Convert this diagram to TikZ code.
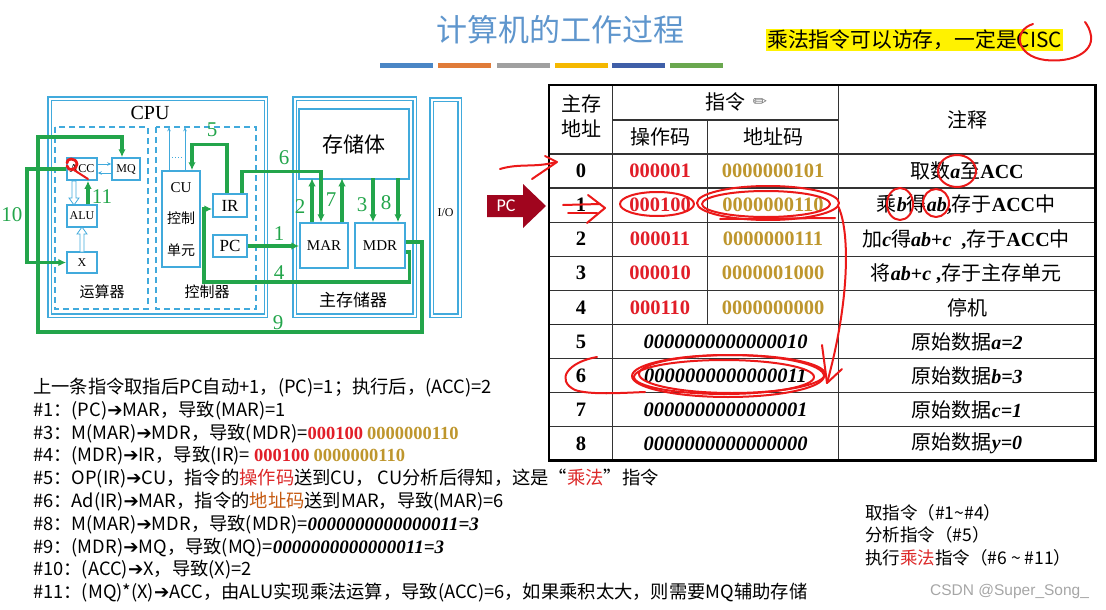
\documentclass[tikz,border=0pt]{standalone}
\usepackage{fontspec}
\setmainfont{Liberation Serif}
\newfontfamily\cjk{Noto Sans CJK SC}
\newfontfamily\dvs{DejaVu Sans}
\newfontfamily\lsans{Liberation Sans}
\newfontfamily\carl{Carlito}
\usetikzlibrary{arrows.meta,calc}
\definecolor{cpublue}{RGB}{65,170,220}
\definecolor{garrow}{RGB}{35,165,75}
\definecolor{tred}{RGB}{225,30,40}
\definecolor{tgold}{RGB}{190,150,45}
\definecolor{wred}{RGB}{220,40,40}
\definecolor{orng}{RGB}{197,90,17}
\definecolor{hred}{RGB}{235,25,25}
\definecolor{titleblue}{RGB}{95,150,205}
\definecolor{pcred}{RGB}{160,5,30}
\definecolor{barA}{RGB}{74,134,197}
\definecolor{barB}{RGB}{224,123,57}
\definecolor{barC}{RGB}{160,160,160}
\definecolor{barD}{RGB}{245,184,0}
\definecolor{barE}{RGB}{63,95,168}
\definecolor{barF}{RGB}{106,168,79}
\newcommand\fs[1]{\fontsize{#1}{#1}\selectfont}
\newcommand\bi[1]{{\rmfamily\bfseries\itshape #1}}
\newcommand\rb[1]{{\rmfamily\bfseries #1}}
\newcommand\ar{{\dvs ➔}}
\newcommand\rn[1]{{\rmfamily\bfseries\fs{18.5}\color{tred}#1}}
\newcommand\gn[1]{{\rmfamily\bfseries\fs{18.5}\color{tgold}#1}}
\newcommand\bn[1]{{\rmfamily\bfseries\itshape\fs{19}#1}}
\begin{document}
\begin{tikzpicture}[x=1pt,y=-1pt,
  reg/.style={draw=cpublue,line width=1.5pt,inner sep=0pt,fill=white,font=\fs{12}},
  gl/.style={draw=garrow,line width=3.3pt,-{Latex[length=8pt,width=7.5pt]}},
  gn/.style={text=garrow,font=\fs{21}},
  bl/.style={draw=cpublue,line width=0.8pt,-{Stealth[length=4pt,width=3.5pt]}},
  dbox/.style={draw=cpublue,line width=1.3pt,dash pattern=on 6pt off 4pt},
  obox/.style={draw=cpublue,double=white,double distance=2pt,line width=1.1pt},
  hollow/.style={draw=cpublue,line width=0.8pt,fill=white},
  hand/.style={draw=hred,line width=2pt,line cap=round,line join=round},
  tl/.style={draw=black!80,line width=1.2pt},
  opc/.style={text=tred,font=\fs{20.5}\bfseries},
  adc/.style={text=tgold,font=\fs{20.5}\bfseries},
  num/.style={font=\fs{20.5}\bfseries},
  dat/.style={font=\fs{20.5}\bfseries\itshape},
  cmt/.style={font=\cjk\fs{20}},
  hdr/.style={font=\cjk\fs{20}},
  txt/.style={anchor=west,font=\cjk\fs{18.3},inner sep=0pt},
  rtxt/.style={anchor=west,font=\cjk\fs{17.5},inner sep=0pt},
]
\useasboundingbox (0,0) rectangle (1106,610);

% ---------- title ----------
\node[font=\cjk\fs{31},text=titleblue] (title) at (560,30) {计算机的工作过程};
\foreach \xa/\c in {380/barA,438/barB,497/barC,555/barD,612/barE,670/barF}
  \fill[\c] (\xa,63) rectangle ++(53,5);

\node[fill=yellow,anchor=west,font=\cjk\fs{20.8},inner xsep=1pt,inner ysep=1.5pt] (note) at (766,40) {乘法指令可以访存，一定是CISC};
\draw[hand] ($(note.east)+(-30,-16)$) .. controls ($(note.east)+(-50,-10)$) and ($(note.east)+(-48,16)$) .. ($(note.east)+(-18,20)$)
  .. controls ($(note.east)+(10,23)$) and ($(note.east)+(30,12)$) .. ($(note.east)+(28,-4)$)
  .. controls ($(note.east)+(27,-10)$) and ($(note.east)+(25,-14)$) .. ($(note.east)+(22,-18)$);

% ---------- CPU diagram ----------
\draw[obox] (49.5,98.5) rectangle (266,315.5);
\draw[dbox] (55,127) rectangle (148,309);
\draw[dbox] (156,127) rectangle (256,309);
\draw[obox] (294.5,98.5) rectangle (414.5,315.5);
\draw[obox] (431.5,99.5) rectangle (459.5,315.5);

\node[font=\fs{20}] (cpulbl) at (150,113) {CPU};
\node[reg,minimum width=30pt,minimum height=22pt] (ACC) at (82,169) {ACC};
\node[reg,minimum width=28pt,minimum height=22pt] (MQ) at (126,169) {MQ};
\node[reg,minimum width=30pt,minimum height=22pt] (ALU) at (82,216) {ALU};
\node[reg,minimum width=30pt,minimum height=21pt] (X) at (82,262.5) {X};
\node[font=\cjk\fs{15}] (ysq) at (102,292) {运算器};
\node[font=\cjk\fs{15}] (kzq) at (207,292) {控制器};

\node[reg,minimum width=38pt,minimum height=96pt] (CU) at (181,219) {};
\node[font=\fs{15}] (cut1) at (181,188) {CU};
\node[font=\cjk\fs{14}] (cut2) at (181,218) {控制};
\node[font=\cjk\fs{14}] (cut3) at (181,250) {单元};
\node[reg,minimum width=34pt,minimum height=23pt,font=\fs{17}] (IR) at (230,205.5) {IR};
\node[reg,minimum width=34pt,minimum height=22pt,font=\fs{17}] (PC) at (230,246) {PC};

\node[reg,minimum width=110pt,minimum height=70pt,font=\cjk\fs{21}] (STO) at (354,144) {存储体};
\node[reg,minimum width=48pt,minimum height=45pt,font=\fs{15}] (MAR) at (324,245.5) {MAR};
\node[reg,minimum width=50pt,minimum height=45pt,font=\fs{15}] (MDR) at (380,245.5) {MDR};
\node[font=\cjk\fs{17}] (zcq) at (353,300) {主存储器};
\node[font=\fs{12}] (IO) at (445.5,213) {I/O};

% thin blue arrows
\draw[bl] ($(ACC.east)+(0,-5)$) -- ($(MQ.west)+(0,-5)$);
\draw[bl] ($(MQ.west)+(0,4)$) -- ($(ACC.east)+(0,4)$);
\draw[bl] ($(CU.north)+(-12,0)$) -- ++(0,-43);
\draw[bl] ($(CU.north)+(4,0)$) -- ++(0,-43);
\draw[cpublue,line width=1pt,dotted] (172,157) -- (183,157);
% hollow arrows
\draw[hollow] (72,181) -- (76,181) -- (76,198) -- (79,198) -- (74,205) -- (69,198) -- (72,198) -- cycle;
\draw[hollow] (80,252) -- (84,252) -- (84,234) -- (87,234) -- (82,227) -- (77,234) -- (80,234) -- cycle;

% green data paths
\coordinate (c4) at (204,282);
\coordinate (c9a) at (422,332);
\coordinate (c9b) at (38,137);
\coordinate (c10) at (27,262.5);
\draw[gl] (PC.east) -- (PC.east -| MAR.west);
\draw[gl] ($(MAR.north)+(-12,0)$) -- ++(0,-44);
\draw[gl] ($(IR.north)+(12,0)$) -- ++(0,-22) -| ($(MAR.north)+(-3,0)$);
\draw[gl] ($(MAR.north)+(18,0)$) -- ++(0,-44);
\draw[gl] ($(MDR.north)+(-7,-44)$) -- ($(MDR.north)+(-7,0)$);
\draw[gl] ($(MDR.north)+(18,-44)$) -- ($(MDR.north)+(18,0)$);
\draw[gl] ($(MDR.east)+(0,6.5)$) -- ++(4,0) |- (c4) |- ($(IR.west)+(0,3.5)$);
\draw[gl] ($(IR.north)+(-3,0)$) -- ++(0,-49) -| ($(CU.north)+(11,0)$);
\draw[gl] ($(MDR.east)+(0,-3.5)$) -| (c9a) -| (c9b) -| ($(MQ.north)+(-4,0)$);
\draw[gl] (ACC.west) -| (c10) -- (X.west);
\draw[gl] ($(ALU.north)+(6,0)$) -- ($(ACC.south)+(6,0)$);

\node[gn] (n10) at (12,215) {10};
\node[gn] (n5) at (212,130) {5};
\node[gn] (n11) at (102,197) {11};
\node[gn] (n6) at (284,158) {6};
\node[gn] (n2) at (300,207) {2};
\node[gn] (n7) at (331,200) {7};
\node[gn] (n3) at (362,205) {3};
\node[gn] (n8) at (386,203) {8};
\node[gn] (n1) at (279,234) {1};
\node[gn] (n4) at (279,273) {4};
\node[gn] (n9) at (278,323) {9};

% red scribble on ACC
\draw[hand,line width=2.8pt] (67,163) .. controls (66,158) and (76,157) .. (77,164) .. controls (77,170) and (68,172) .. (67,166);
\draw[hand] (74,170) -- (88,179);

% ---------- table ----------
\draw[tl] (612.7,120) -- (838.3,120);
\foreach \yy in {154,188.08,222.16,256.24,290.32,358.48,392.56,426.64}
  \draw[tl] (549,\yy) -- (1095.5,\yy);
\draw[black!85,line width=1.6pt] (549,324.4) -- (1095.5,324.4);
\draw[tl] (612.7,85) -- (612.7,460.7);
\draw[tl] (707.7,120) -- (707.7,324.4);
\draw[tl] (838.3,85) -- (838.3,460.7);
\draw[black,line width=2.6pt] (549,85) rectangle (1095.5,460.7);

\node[font=\cjk\fontsize{20}{25}\selectfont,align=center] (hdr1) at (581,116) {主存\\地址};
\node[hdr] (hdr2) at (725,102) {指令};
\node[font=\dvs\fs{17},text=black!55] (pencil) at (760,103) {✏};
\node[hdr] (hop) at (660,137) {操作码};
\node[hdr] (had) at (773,137) {地址码};
\node[hdr] (hnote) at (967,120) {注释};

\foreach \i in {0,...,8}
  \node[num] (addr\i) at (581,{154+34.08*(\i+0.5)}) {\i};

\node[opc] (op0) at (660,171.04) {000001};
\node[opc] (op1) at (660,205.12) {000100};
\node[opc] (op2) at (660,239.2) {000011};
\node[opc] (op3) at (660,273.28) {000010};
\node[opc] (op4) at (660,307.36) {000110};
\node[adc] (ad0) at (773,171.04) {0000000101};
\node[adc] (ad1) at (773,205.12) {0000000110};
\node[adc] (ad2) at (773,239.2) {0000000111};
\node[adc] (ad3) at (773,273.28) {0000001000};
\node[adc] (ad4) at (773,307.36) {0000000000};
\node[dat] (d5) at (725.5,341.44) {0000000000000010};
\node[dat] (d6) at (725.5,375.52) {0000000000000011};
\node[dat] (d7) at (725.5,409.6) {0000000000000001};
\node[dat] (d8) at (725.5,443.68) {0000000000000000};

\node[cmt] (cm0) at (967,171.04) {取数\bi{a}至\rb{ACC}};
\node[cmt] (cm1) at (966,205.12) {乘\bi{b}得\bi{ab}\rb{,}存于\rb{ACC}中};
\node[cmt] (cm2) at (966,239.2) {加\bi{c}得\bi{ab}\rb{+}\bi{c}\rb{\ \ ,}存于\rb{ACC}中};
\node[cmt] (cm3) at (966,273.28) {将\bi{ab}\rb{+}\bi{c}\rb{\ ,}存于主存单元};
\node[cmt] (cm4) at (967,307.36) {停机};
\node[cmt] (cm5) at (967,341.44) {原始数据\bi{a=2}};
\node[cmt] (cm6) at (967,375.52) {原始数据\bi{b=3}};
\node[cmt] (cm7) at (967,409.6) {原始数据\bi{c=1}};
\node[cmt] (cm8) at (967,443.68) {原始数据\bi{y=0}};

% PC pointer
\fill[pcred] (487,195) -- (523,195) -- (523,184) -- (546,206) -- (523,228) -- (523,217) -- (487,217) -- cycle;
\node[text=white,font=\carl\fs{18}] (pcarrow) at (506,206) {PC};

% hand annotations on table
\draw[hand] (500,169) .. controls (520,163) and (535,168) .. (556,162);
\draw[hand] (545,156) -- (557,162) -- (532,179);
\draw[hand] (563,205) -- (600,204);
\draw[hand] (568,213) -- (597,213);
\draw[hand] (588,195) -- (605,208) -- (587,223);
\draw[hand] (657,204) ellipse [x radius=37, y radius=12];
\draw[hand] (768,203) ellipse [x radius=71, y radius=17];
\draw[hand] (766,204) ellipse [x radius=64, y radius=13];
\draw[hand] (720,219) -- (835,218);
\draw[hand] (838,206) .. controls (850,230) and (850,300) .. (827,383);
\draw[hand] (822,345) -- (827,383) -- (842,369);
\draw[hand] (957,171) ellipse [x radius=19, y radius=16];
\draw[hand] (900,204) ellipse [x radius=13, y radius=16];
\draw[hand] (936,203) ellipse [x radius=13, y radius=14];
\draw[hand] (597,357) .. controls (568,362) and (555,380) .. (575,390) .. controls (590,395) and (620,393) .. (645,392);
\draw[hand] (728,376) ellipse [x radius=96, y radius=21];
\draw[hand] (724,377) ellipse [x radius=90, y radius=17];
\draw[hand] (732,374) ellipse [x radius=93, y radius=19];

% ---------- explanation text ----------
\node[txt] (l0) at (33,388) {上一条指令取指后PC自动+1，(PC)=1；执行后，(ACC)=2};
\node[txt] (l1) at (33,411) {\#1：(PC)\ar MAR，导致(MAR)=1};
\node[txt] (l2) at (33,434) {\#3：M(MAR)\ar MDR，导致(MDR)=\rn{000100} \gn{0000000110}};
\node[txt] (l3) at (33,456) {\#4：(MDR)\ar IR，导致(IR)= \rn{000100} \gn{0000000110}};
\node[txt] (l4) at (33,479) {\#5：OP(IR)\ar CU，指令的\textcolor{wred}{操作码}送到CU， CU分析后得知，这是“\textcolor{wred}{乘法}”指令};
\node[txt] (l5) at (33,502) {\#6：Ad(IR)\ar MAR，指令的\textcolor{orng}{地址码}送到MAR，导致(MAR)=6};
\node[txt] (l6) at (33,525) {\#8：M(MAR)\ar MDR，导致(MDR)=\bn{0000000000000011=3}};
\node[txt] (l7) at (33,548) {\#9：(MDR)\ar MQ，导致(MQ)=\bn{0000000000000011=3}};
\node[txt] (l8) at (33,570) {\#10：(ACC)\ar X，导致(X)=2};
\node[txt] (l9) at (33,593) {\#11：(MQ)*(X)\ar ACC，由ALU实现乘法运算，导致(ACC)=6，如果乘积太大，则需要MQ辅助存储};

\node[rtxt] (r1) at (865,513) {取指令（\#1\textasciitilde\#4）};
\node[rtxt] (r2) at (865,535) {分析指令（\#5）};
\node[rtxt] (r3) at (865,558) {执行\textcolor{wred}{乘法}指令（\#6 \textasciitilde\ \#11）};
\node[anchor=west,font=\lsans\fs{15.5},text=black!35,inner sep=0pt] (wm) at (930,591) {CSDN @Super\_Song\_};
\end{tikzpicture}
\end{document}
